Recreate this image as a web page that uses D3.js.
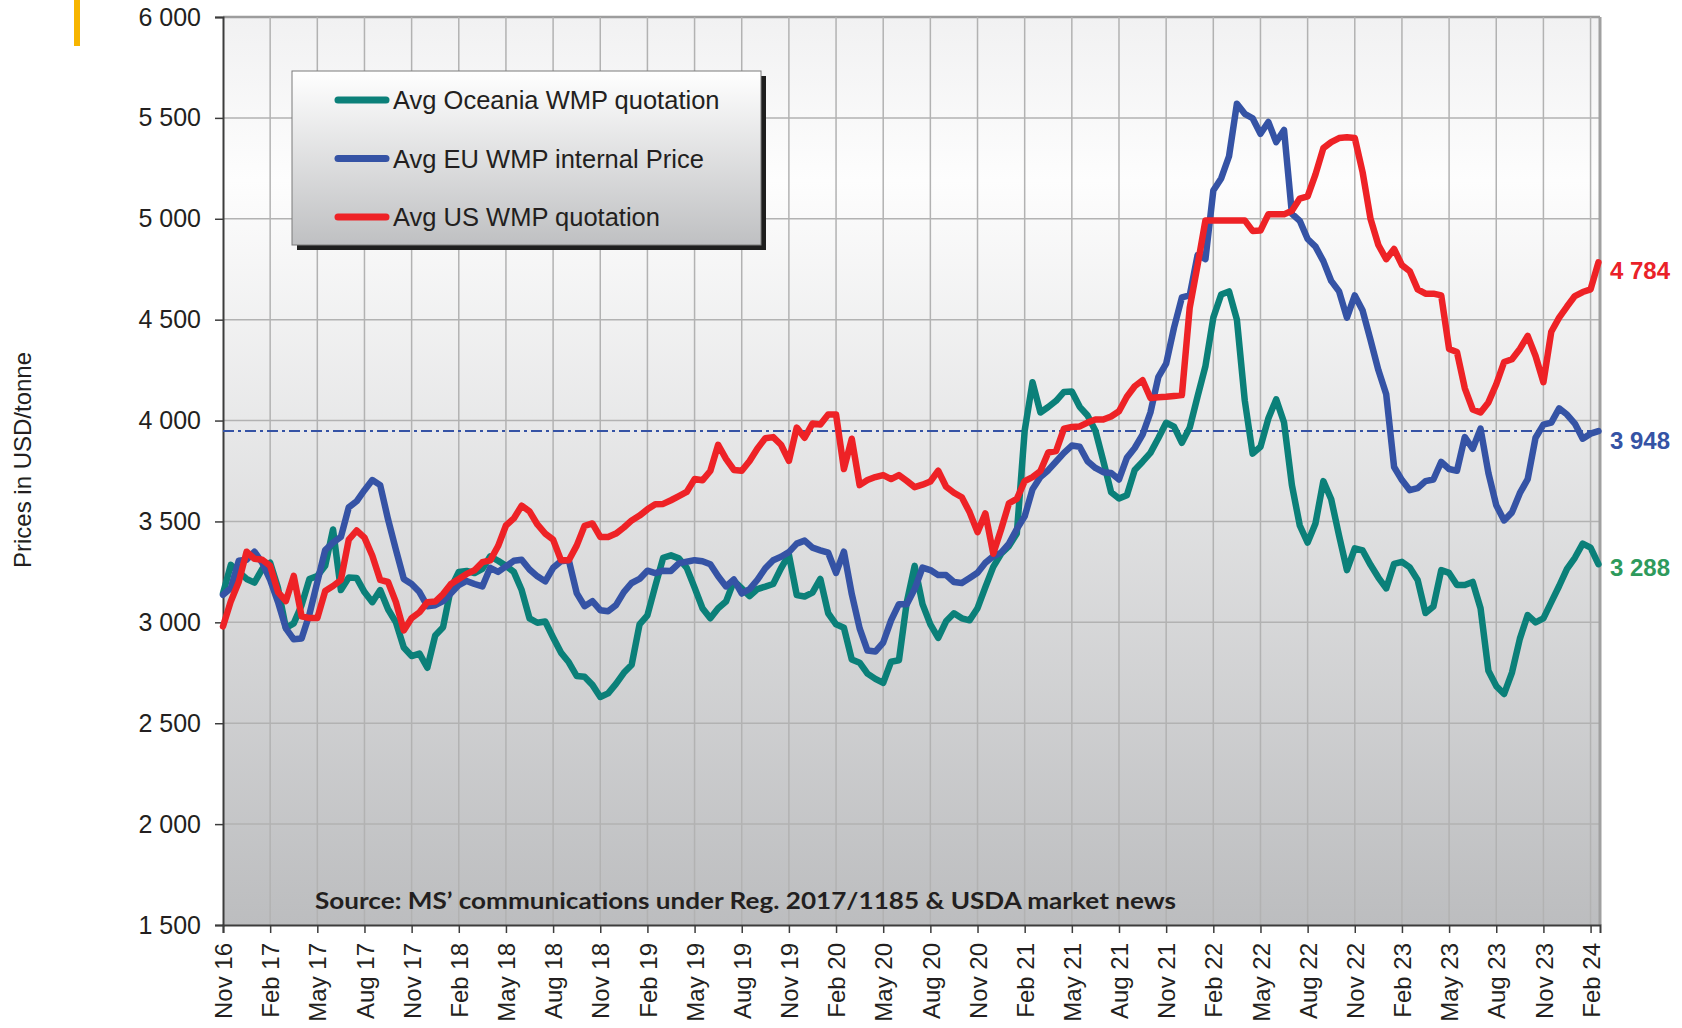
<!DOCTYPE html>
<html>
<head>
<meta charset="utf-8">
<script src="https://cdn.jsdelivr.net/npm/d3@7"></script>
<style>
    body { margin: 0; background: #fff; }
    svg { display: block; font-family: "Liberation Sans", Arial, sans-serif; }
</style>
</head>
<body>
<svg width="1682" height="1028"></svg>
<script>
// Quarterly tick labels (month index from Nov 16)
var tickMonths = [0, 3, 6, 9, 12, 15, 18, 21, 24, 27, 30, 33, 36, 39, 42, 45, 48, 51, 54, 57, 60, 63, 66, 69, 72, 75, 78, 81, 84, 87];
var tickLabels = ["Nov 16", "Feb 17", "May 17", "Aug 17", "Nov 17", "Feb 18", "May 18", "Aug 18", "Nov 18", "Feb 19",
    "May 19", "Aug 19", "Nov 19", "Feb 20", "May 20", "Aug 20", "Nov 20", "Feb 21", "May 21", "Aug 21",
    "Nov 21", "Feb 22", "May 22", "Aug 22", "Nov 22", "Feb 23", "May 23", "Aug 23", "Nov 23", "Feb 24"];
var yTicks = [1500, 2000, 2500, 3000, 3500, 4000, 4500, 5000, 5500, 6000];

// Prices, two readings per month starting Nov 16 (USD/tonne)
var oceania = [
    3144, 3285, 3250, 3215, 3197, 3265, 3295, 3170, 2972, 2995, 3085, 3215,
    3230, 3280, 3460, 3160, 3222, 3220, 3150, 3100, 3160, 3065, 3000, 2875,
    2833, 2845, 2775, 2935, 2976, 3170, 3250, 3255, 3244, 3265, 3327, 3305,
    3280, 3250, 3160, 3020, 2998, 3004, 2925, 2850, 2802, 2734, 2730, 2690,
    2630, 2648, 2695, 2750, 2790, 2990, 3035, 3180, 3320, 3332, 3317, 3270,
    3172, 3070, 3020, 3070, 3103, 3205, 3168, 3130, 3165, 3177, 3190, 3268,
    3335, 3135, 3128, 3147, 3215, 3045, 2990, 2973, 2816, 2800, 2746, 2720,
    2700, 2805, 2812, 3100, 3280, 3090, 2990, 2923, 3005, 3045, 3020, 3010,
    3070, 3175, 3275, 3340, 3378, 3440, 3950, 4190, 4040, 4067, 4098, 4142,
    4144, 4068, 4025, 3950, 3800, 3645, 3614, 3630, 3755, 3796, 3840, 3912,
    3989, 3970, 3890, 3965, 4120, 4270, 4510, 4625, 4640, 4500, 4100, 3836,
    3870, 4010, 4105, 3990, 3680, 3480, 3395, 3490, 3700, 3610, 3430, 3259,
    3367, 3356, 3285, 3222, 3168, 3290, 3300, 3272, 3210, 3046, 3078, 3259,
    3245, 3185, 3185, 3200, 3070, 2760, 2684, 2645, 2751, 2918, 3036, 3000,
    3020, 3100, 3180, 3265, 3320, 3390, 3370, 3288];

var eu = [
    3136, 3170, 3305, 3310, 3350, 3295, 3210, 3100, 2970, 2916, 2920, 3040,
    3200, 3358, 3395, 3423, 3570, 3600, 3655, 3705, 3680, 3510, 3360, 3215,
    3190, 3150, 3080, 3085, 3105, 3144, 3185, 3205, 3190, 3178, 3270, 3250,
    3277, 3305, 3310, 3262, 3228, 3203, 3270, 3303, 3308, 3145, 3080, 3105,
    3060, 3055, 3085, 3150, 3195, 3215, 3256, 3244, 3256, 3255, 3292, 3300,
    3308, 3303, 3288, 3228, 3178, 3212, 3143, 3165, 3211, 3268, 3308, 3325,
    3348, 3390, 3405, 3370, 3357, 3345, 3245, 3350, 3140, 2970, 2860, 2855,
    2900, 3010, 3090, 3090, 3165, 3271, 3259, 3234, 3234, 3200, 3195, 3220,
    3246, 3295, 3328, 3345, 3390, 3462, 3525, 3660, 3720, 3754, 3797, 3840,
    3876, 3870, 3798, 3765, 3744, 3740, 3708, 3815, 3864, 3930, 4040, 4215,
    4282, 4460, 4610, 4620, 4820, 4800, 5140, 5200, 5310, 5570, 5520, 5498,
    5421, 5480, 5380, 5440, 5025, 4990, 4900, 4862, 4790, 4692, 4640, 4510,
    4620, 4545, 4400, 4250, 4130, 3770, 3705, 3655, 3665, 3700, 3708, 3795,
    3760, 3751, 3918, 3860, 3960, 3740, 3580, 3505, 3545, 3640, 3710, 3915,
    3980, 3990, 4060, 4030, 3985, 3910, 3935, 3948];

var us = [
    2980, 3105, 3200, 3350, 3315, 3310, 3280, 3150, 3105, 3230, 3030, 3021,
    3021, 3155, 3180, 3210, 3410, 3455, 3420, 3330, 3210, 3200, 3100, 2960,
    3021, 3050, 3100, 3103, 3140, 3190, 3215, 3240, 3258, 3298, 3307, 3378,
    3480, 3515, 3578, 3550, 3485, 3440, 3410, 3308, 3308, 3380, 3478, 3490,
    3423, 3423, 3440, 3470, 3505, 3529, 3560, 3585, 3587, 3605, 3625, 3646,
    3710, 3704, 3750, 3880, 3810, 3755, 3751, 3800, 3862, 3912, 3918, 3880,
    3800, 3965, 3915, 3985, 3980, 4030, 4030, 3760, 3910, 3680, 3705, 3720,
    3730, 3710, 3730, 3701, 3670, 3682, 3698, 3751, 3672, 3642, 3620, 3545,
    3447, 3540, 3340, 3460, 3590, 3612, 3700, 3720, 3750, 3842, 3849, 3960,
    3968, 3971, 3990, 4005, 4005, 4020, 4046, 4118, 4170, 4200, 4112, 4115,
    4118, 4122, 4126, 4560, 4770, 4992, 4992, 4992, 4992, 4992, 4992, 4940,
    4942, 5022, 5022, 5022, 5040, 5100, 5111, 5220, 5350, 5380, 5400, 5404,
    5400, 5230, 5000, 4870, 4800, 4850, 4770, 4740, 4650, 4629, 4629, 4620,
    4355, 4340, 4160, 4055, 4040, 4090, 4180, 4290, 4304, 4355, 4420, 4320,
    4190, 4440, 4510, 4565, 4617, 4637, 4650, 4784];

var seriesNames = ["Avg Oceania WMP quotation", "Avg EU WMP internal Price", "Avg US WMP quotation"];
var refLevel = 3948; // dash-dot line at the last EU price

// The svg
var svg = d3.select("svg"),
    width = +svg.attr("width"),
    height = +svg.attr("height");

var plotLeft = 223, plotRight = 1600, plotTop = 17, plotBottom = 925;

var x = d3.scaleLinear().domain([0, 87.6]).range([plotLeft, plotRight]);
var y = d3.scaleLinear().domain([1500, 6000]).range([plotBottom, plotTop]);

var fmt = d3.formatLocale({ decimal: ".", thousands: " ", grouping: [3], currency: ["", ""] }).format(",d");

var colors = { oceania: "#0b8079", eu: "#3553a5", us: "#ee2226" };

// gradients
var defs = svg.append("defs");
var bg = defs.append("linearGradient").attr("id", "plotBg")
    .attr("x1", 0).attr("y1", 0).attr("x2", 0).attr("y2", 1);
bg.append("stop").attr("offset", "0%").attr("stop-color", "#f1f1f2");
bg.append("stop").attr("offset", "18%").attr("stop-color", "#fdfdfd");
bg.append("stop").attr("offset", "100%").attr("stop-color", "#bcbdbf");

var lg = defs.append("linearGradient").attr("id", "legendBg")
    .attr("x1", 0).attr("y1", 0).attr("x2", 0).attr("y2", 1);
lg.append("stop").attr("offset", "0%").attr("stop-color", "#ffffff");
lg.append("stop").attr("offset", "100%").attr("stop-color", "#bfc0c2");

// orange mark top left
svg.append("rect").attr("x", 74).attr("y", 0).attr("width", 6).attr("height", 46).attr("fill", "#f7b500");

// plot background
svg.append("rect")
    .attr("x", plotLeft).attr("y", plotTop)
    .attr("width", plotRight - plotLeft).attr("height", plotBottom - plotTop)
    .attr("fill", "url(#plotBg)");

// grid
svg.append("g").selectAll("line")
    .data(yTicks.slice(1))
    .enter().append("line")
    .attr("x1", plotLeft).attr("x2", plotRight)
    .attr("y1", function (d) { return y(d); }).attr("y2", function (d) { return y(d); })
    .attr("stroke", function (d) { return d == 6000 ? "#9d9d9d" : "#b2b2b2"; })
    .attr("stroke-width", function (d) { return d == 6000 ? 2.5 : 1.5; });

svg.append("g").selectAll("line")
    .data(tickMonths.slice(1))
    .enter().append("line")
    .attr("x1", function (d) { return x(d); }).attr("x2", function (d) { return x(d); })
    .attr("y1", plotTop).attr("y2", plotBottom)
    .attr("stroke", "#b2b2b2").attr("stroke-width", 1.5);

// right border
svg.append("line")
    .attr("x1", plotRight).attr("x2", plotRight).attr("y1", plotTop).attr("y2", plotBottom)
    .attr("stroke", "#a0a0a0").attr("stroke-width", 3);

// axes
var yAxis = svg.append("g")
    .attr("transform", "translate(" + plotLeft + ",0)")
    .call(d3.axisLeft(y).tickValues(yTicks).tickFormat(fmt).tickSize(8).tickPadding(14));

var xAxis = svg.append("g")
    .attr("transform", "translate(0," + plotBottom + ")")
    .call(d3.axisBottom(x).tickValues(tickMonths)
        .tickFormat(function (d, i) { return tickLabels[i]; }).tickSize(8));

[yAxis, xAxis].forEach(function (ax) {
    ax.select(".domain").attr("stroke", "#3c3c3c").attr("stroke-width", 2);
    ax.selectAll(".tick line").attr("stroke", "#3c3c3c").attr("stroke-width", 1.5);
    ax.selectAll("text").attr("fill", "#231f20").style("font-size", "24px")
        .style("font-family", "'Liberation Sans', Arial, sans-serif");
});
yAxis.selectAll("text").style("font-size", "25px");

xAxis.selectAll("text")
    .attr("transform", "rotate(-90)")
    .attr("text-anchor", "end")
    .attr("x", -18).attr("y", 0).attr("dy", "0.36em");

// y title
svg.append("text")
    .attr("transform", "translate(23,460) rotate(-90)")
    .attr("text-anchor", "middle").attr("dy", "0.35em")
    .style("font-size", "24px").attr("fill", "#231f20")
    .text("Prices in USD/tonne");

// reference dash-dot line
svg.append("line")
    .attr("x1", plotLeft).attr("x2", plotRight)
    .attr("y1", y(refLevel)).attr("y2", y(refLevel))
    .attr("stroke", colors.eu).attr("stroke-width", 2)
    .attr("stroke-dasharray", "11,4,3,4");

// Draw the lines
var line = d3.line()
    .x(function (d, i) { return x(i * 0.5); })
    .y(function (d) { return y(d); });

var series = [
    { key: "oceania", values: oceania },
    { key: "eu", values: eu },
    { key: "us", values: us }
];

svg.append("g").selectAll("path")
    .data(series)
    .enter().append("path")
    .attr("d", function (d) { return line(d.values); })
    .attr("fill", "none")
    .attr("stroke", function (d) { return colors[d.key]; })
    .attr("stroke-width", 6.5)
    .attr("stroke-linejoin", "round")
    .attr("stroke-linecap", "round");

// last values at the right
var endLabels = [
    { v: us[us.length - 1], dy: 8, c: "#ea2128" },
    { v: eu[eu.length - 1], dy: 10, c: "#3553a5" },
    { v: oceania[oceania.length - 1], dy: 3, c: "#2e9a5c" }
];
svg.append("g").selectAll("text")
    .data(endLabels)
    .enter().append("text")
    .attr("x", 1610)
    .attr("y", function (d) { return y(d.v) + d.dy; })
    .attr("dy", "0.35em")
    .attr("fill", function (d) { return d.c; })
    .style("font-size", "24px").style("font-weight", "bold")
    .text(function (d) { return fmt(d.v); });

// source note
svg.append("text")
    .attr("x", 315).attr("y", 909)
    .attr("textLength", 861).attr("lengthAdjust", "spacingAndGlyphs")
    .style("font-family", "Lato, 'Open Sans', sans-serif")
    .style("font-size", "23px").style("font-weight", "bold")
    .attr("fill", "#231f20")
    .text("Source: MS\u2019 communications under Reg. 2017/1185  & USDA market news");

// legend
var legend = svg.append("g");
legend.append("rect")
    .attr("x", 297).attr("y", 76).attr("width", 469).attr("height", 174)
    .attr("fill", "#1e1e1e");
legend.append("rect")
    .attr("x", 292).attr("y", 71).attr("width", 469).attr("height", 174)
    .attr("fill", "url(#legendBg)").attr("stroke", "#7a7a7a").attr("stroke-width", 1);

var rows = legend.selectAll(".row")
    .data(series)
    .enter().append("g")
    .attr("class", "row")
    .attr("transform", function (d, i) { return "translate(0," + (100 + i * 58.5) + ")"; });

rows.append("line")
    .attr("x1", 338).attr("x2", 386)
    .attr("stroke", function (d) { return colors[d.key]; })
    .attr("stroke-width", 7).attr("stroke-linecap", "round");

rows.append("text")
    .attr("x", 393).attr("dy", "0.36em")
    .style("font-size", "25.5px").attr("fill", "#231f20")
    .text(function (d, i) { return seriesNames[i]; });
</script>
</body>
</html>
